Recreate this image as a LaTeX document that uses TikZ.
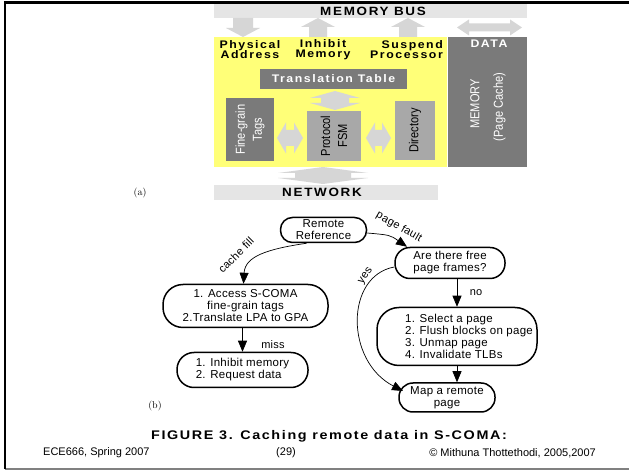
\documentclass[tikz,border=0pt]{standalone}
\usepackage{fontspec}
\usetikzlibrary{arrows.meta}
\newfontfamily\hv{Liberation Sans}
\newfontfamily\hvw[LetterSpace=14,FakeStretch=1.12]{Liberation Sans}
\newfontfamily\hvc[LetterSpace=13,FakeStretch=1.15]{Liberation Sans}
\newfontfamily\hvf[LetterSpace=2.5]{Liberation Sans}
\newfontfamily\hvn[FakeStretch=0.85]{Liberation Sans}
\definecolor{ylw}{RGB}{255,255,120}
\definecolor{dkg}{RGB}{122,122,122}
\definecolor{mdg}{RGB}{168,168,168}
\definecolor{barg}{RGB}{229,229,229}
\definecolor{arrg}{RGB}{214,214,214}
\definecolor{lineg}{RGB}{128,128,128}
% vertical double block arrow: cx, ytop, ybot, headhalf, headlen, shafthalf
\newcommand\vdblarr[6]{%
\fill[arrg] (#1,#2) -- ({#1+#4},{#2-#5}) -- ({#1+#6},{#2-#5}) -- ({#1+#6},{#3+#5}) -- ({#1+#4},{#3+#5}) -- (#1,#3) -- ({#1-#4},{#3+#5}) -- ({#1-#6},{#3+#5}) -- ({#1-#6},{#2-#5}) -- ({#1-#4},{#2-#5}) -- cycle;}
% horizontal double block arrow: x1, x2, yc, headhalf, headlen, shafthalf
\newcommand\hdblarr[6]{%
\fill[arrg] (#1,#3) -- ({#1+#5},{#3+#4}) -- ({#1+#5},{#3+#6}) -- ({#2-#5},{#3+#6}) -- ({#2-#5},{#3+#4}) -- (#2,#3) -- ({#2-#5},{#3-#4}) -- ({#2-#5},{#3-#6}) -- ({#1+#5},{#3-#6}) -- ({#1+#5},{#3-#4}) -- cycle;}
% single block arrow: cx, ytail, ytip, headhalf, headlen (signed), shafthalf
\newcommand\sblarr[6]{%
\fill[arrg] ({#1-#6},#2) -- ({#1+#6},#2) -- ({#1+#6},{#3-#5}) -- ({#1+#4},{#3-#5}) -- (#1,#3) -- ({#1-#4},{#3-#5}) -- ({#1-#6},{#3-#5}) -- cycle;}
\begin{document}
\begin{tikzpicture}[x=1pt,y=1pt,
  barlabel/.style={font=\hvw\bfseries\fontsize{12}{12}\selectfont, inner sep=0pt},
  toplabel/.style={font=\hvw\bfseries\fontsize{11}{10.5}\selectfont, inner sep=0pt},
  darkbox/.style={fill=dkg, text=white, inner sep=0pt},
  midbox/.style={fill=mdg, text=black, inner sep=0pt},
  vtext/.style={font=\hvn\fontsize{13}{17}\selectfont, align=center, rotate=90},
  flow/.style={draw, line width=1.5pt, inner sep=0pt, align=center, font=\hvf\fontsize{11.5}{12}\selectfont},
  flowtext/.style={inner sep=0pt, align=left, font=\hvf\fontsize{11.5}{12}\selectfont},
  arr/.style={line width=0.7pt, -{Triangle[length=11pt,width=9pt]}},
  elabel/.style={font=\hvf\fontsize{11}{11}\selectfont, inner sep=0pt},
  partlabel/.style={font=\fontsize{10}{10}\selectfont, inner sep=0pt},
  foot/.style={font=\hv\fontsize{11}{11}\selectfont, inner sep=0pt}]
\useasboundingbox (0,0) rectangle (629,471);
\fill[white] (0,0) rectangle (629,471);
% frame
\draw[lineg, line width=1.2pt] (5,2) -- (629,2);
\draw[line width=2.5pt] (3.75,468.5) -- (629,468.5);
\draw[line width=2.5pt] (5,469.75) -- (5,1.5);

% ---------- part (a) ----------
\node[fill=barg, minimum width=313pt, minimum height=14pt, inner sep=0pt] (bus) at (370.5,460) {};
\node[barlabel] (buslbl) at (373,460) {MEMORY BUS};
\sblarr{243}{453}{434}{17}{-9}{10}
\sblarr{318}{434}{453}{17}{9}{9}
\sblarr{408}{434}{453}{17}{9}{9}
\hdblarr{457}{522}{443.5}{8}{12}{4}

\fill[ylw] (214,304) rectangle (447,434);
\fill[dkg] (448,304) rectangle (527,434);
\node[toplabel, text=white] (data) at (489,427.5) {DATA};
\node[vtext, text=white] (mem) at (475,367) {MEMORY};
\node[vtext, text=white] (pc) at (499.5,364) {(Page Cache)};

\node[toplabel, align=center] (pa) at (250,421.5) {Physical\\Address};
\node[toplabel, align=center] (im) at (323,421.5) {Inhibit\\Memory};
\node[toplabel, align=right, anchor=east] (sp) at (443,421.5) {Suspend\\Processor};

\node[darkbox, minimum width=147pt, minimum height=20pt, font=\hvw\bfseries\fontsize{11}{11}\selectfont] (tt) at (333.5,392) {Translation Table};
\vdblarr{335}{380}{361}{25}{7}{14}

\node[darkbox, minimum width=48pt, minimum height=63pt] (fg) at (250,341.5) {};
\node[vtext, text=white] (fgt) at (fg.center) {Fine-grain\\Tags};
\node[midbox, minimum width=54pt, minimum height=50pt] (fsm) at (334,335) {};
\node[vtext] (fsmt) at (fsm.center) {Protocol\\FSM};
\node[midbox, minimum width=40pt, minimum height=59pt] (dir) at (415,340.5) {};
\node[vtext] (dirt) at (dir.center) {Directory};
\hdblarr{277}{303}{333}{15.5}{9}{8}
\hdblarr{366}{391}{333}{15.5}{9}{8}

\vdblarr{323}{304}{287}{45}{6}{28}
\node[fill=barg, minimum width=224pt, minimum height=15pt, inner sep=0pt] (net) at (326,278.5) {};
\node[barlabel] (netlbl) at (322,278.5) {NETWORK};
\node[partlabel] (pa) at (140,278) {(a)};

% ---------- part (b) ----------
\node[flow, minimum width=86pt, minimum height=25pt, rounded corners=12pt] (rr) at (323.5,241) {Remote\\Reference};
\node[flow, minimum width=110pt, minimum height=31pt, rounded corners=15pt] (free) at (450,208) {Are there free\\page frames?};
\node[flow, minimum width=165pt, minimum height=43pt, rounded corners=20pt] (acc) at (245.5,165) {1. Access S-COMA\\fine-grain tags\\2.Translate LPA to GPA};
\node[flow, align=left, minimum width=131pt, minimum height=35pt, rounded corners=17pt] (inh) at (242.5,101) {1. Inhibit memory\\2. Request data};
\node[flow, minimum width=160pt, minimum height=58pt, rounded corners=22pt] (sel) at (457,134.5) {};
\node[flowtext] (selt) at (469,134.5) {1. Select a page\\2. Flush blocks on page\\3. Unmap page\\4. Invalidate TLBs};
\node[flow, minimum width=96pt, minimum height=29pt, rounded corners=14pt] (map) at (447,73.5) {Map a remote\\page};
\coordinate (yesend) at (403,80);

\draw[arr] ([yshift=-3pt]rr.east) .. controls (390,236) .. ([xshift=-43pt]free.north);
\node[elabel, rotate=-30] (pf) at (399,244) {page fault};
\draw[arr] ([xshift=-17pt]rr.south) .. controls (268,222) and (245,215) .. ([xshift=-2pt]acc.north);
\node[elabel, rotate=45] (cf) at (236,216) {cache fill};
\draw[arr] (inh.north |- acc.south) -- (inh.north);
\node[elabel] (miss) at (273,126) {miss};
\draw[arr] (sel.north |- free.south) -- (sel.north);
\node[elabel] (no) at (476,178) {no};
\draw[arr] (sel.south) -- (sel.south |- map.north);
\draw[arr] ([yshift=-4pt]free.west) .. controls (345,195) and (345,110) .. (yesend);
\node[elabel, rotate=55] (yes) at (366,195) {yes};
\node[partlabel] (pb) at (155,65) {(b)};

% ---------- caption and footer ----------
\node[font=\hvc\bfseries\fontsize{12.5}{12.5}\selectfont, inner sep=0pt] (cap) at (329,35) {FIGURE 3. Caching remote data in S-COMA:};
\node[foot, anchor=west] (f1) at (43,18) {ECE666, Spring 2007};
\node[foot] (f2) at (286,18) {(29)};
\node[foot, anchor=east] (f3) at (596,18) {© Mithuna Thottethodi, 2005,2007};
\end{tikzpicture}
\end{document}
